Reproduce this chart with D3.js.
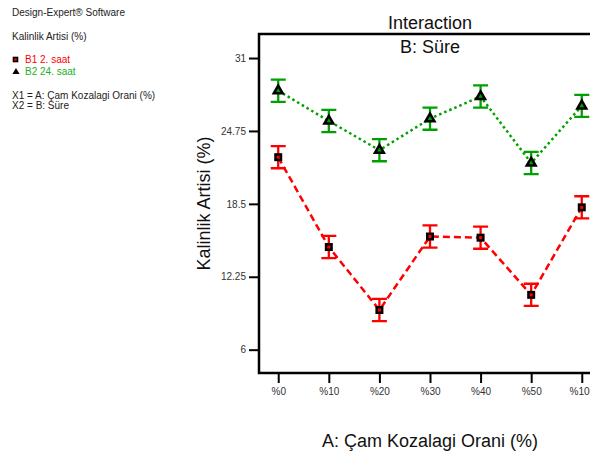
<!DOCTYPE html>
<html><head><meta charset="utf-8">
<script src="https://cdn.jsdelivr.net/npm/d3@7"></script>
<style>body{margin:0;background:#fff;} svg{display:block;font-family:"Liberation Sans",Arial,sans-serif;}</style>
</head><body>
<svg id="c" width="590" height="456"></svg>
<script>
const categories = ["%0", "%10", "%20", "%30", "%40", "%50", "%100"];
const b1Values = [22.5, 14.8, 9.4, 15.7, 15.6, 10.7, 18.2];
const b2Values = [28.2, 25.6, 23.1, 25.8, 27.7, 22.0, 26.9];
const b1ErrHalf = [0.95, 0.95, 0.95, 0.95, 0.95, 0.95, 0.95];
const b2ErrHalf = [0.95, 0.95, 0.95, 0.95, 0.95, 0.95, 0.95];
const yTicks = [6, 12.25, 18.5, 24.75, 31];
const yTickLabels = ["6", "12.25", "18.5", "24.75", "31"];
const seriesNames = ["B1 2. saat", "B2 24. saat"];
const infoLines = ["Design-Expert® Software", "Kalinlik Artisi (%)"];
const factorLines = ["X1 = A: Çam Kozalagi Orani (%)", "X2 = B: Süre"];

const RED = "#ff0000", GREEN = "#00a000";
const svg = d3.select("#c");
const L = 259, R = 601, T = 34, B = 373;

const x = d3.scalePoint().domain(categories).range([L, R]).padding(0.38);
const y = d3.scaleLinear().domain([4, 33.06]).range([B, T]);

// Left info panel
const info = svg.append("g").attr("font-size", 10).attr("fill", "#222");
info.append("text").attr("x", 12).attr("y", 16).text(infoLines[0]);
info.append("text").attr("x", 12).attr("y", 40).text(infoLines[1]);
info.append("rect").attr("x", 13.5).attr("y", 57.5).attr("width", 4).attr("height", 4)
  .attr("fill", RED).attr("stroke", "#000").attr("stroke-width", 1.6);
info.append("text").attr("x", 25).attr("y", 63).attr("fill", RED).text(seriesNames[0]);
info.append("path").attr("d", d3.symbol(d3.symbolTriangle, 22)()).attr("transform", "translate(16,72)")
  .attr("fill", "#000");
info.append("text").attr("x", 25).attr("y", 75).attr("fill", "#22b022").text(seriesNames[1]);
info.append("text").attr("x", 12).attr("y", 99).text(factorLines[0]);
info.append("text").attr("x", 12).attr("y", 109).text(factorLines[1]);

// Titles
svg.append("text").attr("x", 430).attr("y", 29).attr("text-anchor", "middle").attr("font-size", 18).attr("fill", "#111").text("Interaction");
svg.append("text").attr("x", 430).attr("y", 53).attr("text-anchor", "middle").attr("font-size", 18).attr("fill", "#111").text("B: Süre");
svg.append("text").attr("x", 430).attr("y", 447).attr("text-anchor", "middle").attr("font-size", 18).attr("fill", "#111").text("A: Çam Kozalagi Orani (%)");
svg.append("text").attr("transform", `translate(210,${(T + B) / 2}) rotate(-90)`).attr("text-anchor", "middle").attr("font-size", 18).attr("fill", "#111").text("Kalinlik Artisi (%)");

// Axes
const yAxis = d3.axisLeft(y).tickValues(yTicks).tickFormat((d, i) => yTickLabels[i]).tickSize(10).tickPadding(3).tickSizeOuter(0);
const gy = svg.append("g").attr("transform", `translate(${L},0)`).call(yAxis);
const xAxis = d3.axisBottom(x).tickSize(10).tickPadding(5).tickSizeOuter(0);
const gx = svg.append("g").attr("transform", `translate(0,${B})`).call(xAxis);
[gx, gy].forEach(g => {
  g.select(".domain").remove();
  g.selectAll(".tick line").attr("stroke", "#000").attr("stroke-width", 2);
  g.selectAll(".tick text").attr("font-size", 10).attr("fill", "#333").attr("font-family", "Liberation Sans, Arial, sans-serif");
});

// Frame
svg.append("path").attr("d", `M${R + 20},${T}H${L}V${B}H${R + 20}`).attr("fill", "none").attr("stroke", "#000").attr("stroke-width", 2.5);

function drawSeries(vals, errs, color, dash, markerFn) {
  const g = svg.append("g");
  const line = d3.line().x((d, i) => x(categories[i])).y(d => y(d));
  g.append("path").datum(vals).attr("d", line).attr("fill", "none").attr("stroke", color)
    .attr("stroke-width", 2.5).attr("stroke-dasharray", dash);
  vals.forEach((v, i) => {
    const cx = x(categories[i]);
    const y1 = y(v + errs[i]), y2 = y(v - errs[i]);
    g.append("path").attr("d", `M${cx},${y1}V${y2}M${cx - 7.5},${y1}H${cx + 7.5}M${cx - 7.5},${y2}H${cx + 7.5}`)
      .attr("fill", "none").attr("stroke", color).attr("stroke-width", 2.3);
    markerFn(g, cx, y(v));
  });
}

drawSeries(b2Values, b2ErrHalf, GREEN, "2.5,3", (g, cx, cy) => {
  g.append("path").attr("d", d3.symbol(d3.symbolTriangle, 34)()).attr("transform", `translate(${cx},${cy})`)
    .attr("fill", GREEN).attr("stroke", "#000").attr("stroke-width", 2.5).attr("stroke-linejoin", "miter");
});
drawSeries(b1Values, b1ErrHalf, RED, "7,4", (g, cx, cy) => {
  g.append("rect").attr("x", cx - 2.75).attr("y", cy - 2.75).attr("width", 5.5).attr("height", 5.5)
    .attr("fill", RED).attr("stroke", "#000").attr("stroke-width", 2.5);
});
</script>
</body></html>
